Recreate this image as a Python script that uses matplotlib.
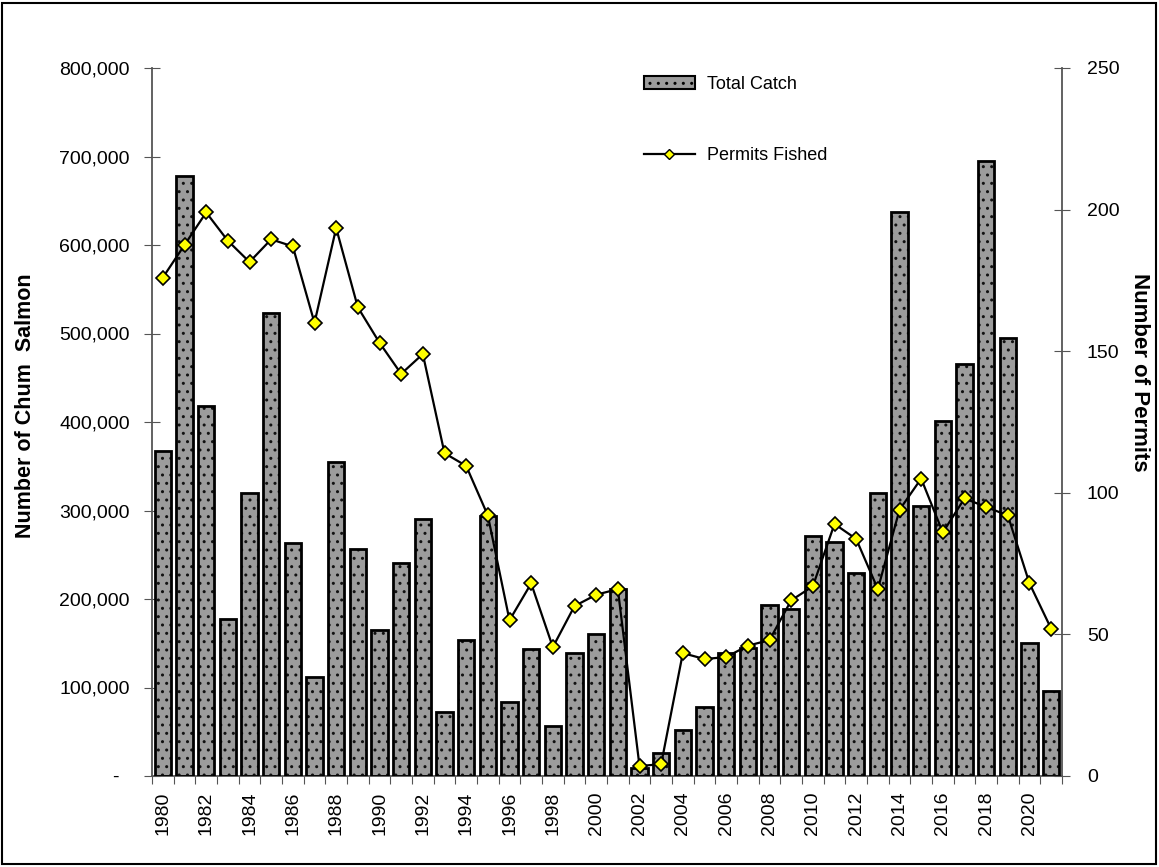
import numpy as np
import matplotlib.pyplot as plt
from matplotlib.patches import Patch, Rectangle
from matplotlib.lines import Line2D
from matplotlib.ticker import FuncFormatter

plt.rcParams['font.family'] = ['Liberation Sans', 'DejaVu Sans']

# Dados
anos = list(range(1980, 2022))
captura = [367000, 678000, 418000, 177000, 320000, 523000, 263000, 112000, 355000, 256000,
           165000, 241000, 290000, 72000, 154000, 294000, 84000, 143000, 56000, 139000,
           160000, 211000, 9000, 26000, 52000, 78000, 139000, 145000, 193000, 189000,
           271000, 264000, 229000, 320000, 637000, 305000, 401000, 466000, 695000, 495000,
           150000, 96000]
permissoes = [176, 187.5, 199, 189, 181.5, 189.5, 187, 160, 193.5, 165.5,
              153, 142, 149, 114, 109.5, 92, 55, 68, 45.5, 60,
              64, 66, 3.5, 4.2, 43.4, 41.3, 42, 46, 48, 62,
              67, 89, 83.7, 66, 94, 105, 86, 98, 95, 92,
              68, 52]

x = np.arange(len(anos))

fig = plt.figure(figsize=(11.59, 8.67), dpi=100)
ax = fig.add_axes([152/1159, 1 - 776/867, (1062 - 152)/1159, (776 - 68)/867])
ax2 = ax.twinx()

# Barras (textura + contorno)
ax.bar(x, captura, width=0.75, color='#9c9c9c', edgecolor='#111111', hatch='..',
       linewidth=0, zorder=2)
ax.bar(x, captura, width=0.75, fill=False, edgecolor='black', linewidth=2, zorder=3)

# Linha de permissões
ax2.plot(x, permissoes, color='black', linewidth=1.6, marker='D', markersize=7,
         markerfacecolor='#ffff00', markeredgecolor='black', markeredgewidth=1.2,
         zorder=4)

ax.set_xlim(-0.5, len(anos) - 0.5)
ax.set_ylim(0, 800000)
ax2.set_ylim(0, 250)

ax.set_yticks(np.arange(0, 800001, 100000))
ax.yaxis.set_major_formatter(FuncFormatter(lambda v, p: '-  ' if v == 0 else f'{int(v):,}'))
ax2.set_yticks(np.arange(0, 251, 50))

ax.set_xticks(np.arange(-0.5, len(anos), 1))
ax.set_xticklabels([])
ax.set_xticks(x[::2], minor=True)
ax.set_xticklabels([str(a) for a in anos[::2]], minor=True, rotation=90)

eixo = '#555555'
ax.tick_params(axis='x', which='major', direction='out', length=6, color=eixo)
ax.tick_params(axis='x', which='minor', length=0, pad=11, labelsize=14)
ax.tick_params(axis='y', direction='inout', length=12, color=eixo, labelsize=14, pad=10)
ax2.tick_params(axis='y', direction='inout', length=12, color=eixo, labelsize=14, pad=12)

for a in (ax, ax2):
    a.spines['top'].set_visible(False)
    for s in ('left', 'right', 'bottom'):
        a.spines[s].set_color(eixo)
        a.spines[s].set_linewidth(1.3)
ax.spines['right'].set_visible(False)
ax2.spines['left'].set_visible(False)
ax2.spines['bottom'].set_visible(False)

fig.text(26/1159, 1 - 406/867, 'Number of Chum  Salmon', rotation=90, fontsize=15.5,
         fontweight='bold', ha='center', va='center')
fig.text(1140/1159, 1 - 372/867, 'Number of Permits', rotation=-90, fontsize=16,
         fontweight='bold', ha='center', va='center')

# Legenda
h1 = Patch(facecolor='#9c9c9c', edgecolor='black', hatch='..', linewidth=1.5)
h2 = Line2D([], [], color='black', linewidth=1.6, marker='D', markersize=5,
            markerfacecolor='#ffff00', markeredgecolor='black', markeredgewidth=1)
fig.legend([h1, h2], ['Total Catch', 'Permits Fished'], loc='upper left',
           bbox_to_anchor=(644/1159, 1 - 76/867), frameon=False, fontsize=13,
           handlelength=2.8, handleheight=0.7, handletextpad=0.7, labelspacing=3.0,
           borderpad=0, borderaxespad=0)

# Moldura
fig.add_artist(Rectangle((0.002, 0.003), 0.995, 0.994, transform=fig.transFigure,
                         fill=False, edgecolor='black', linewidth=1.5))

plt.savefig('out.png', dpi=100)
